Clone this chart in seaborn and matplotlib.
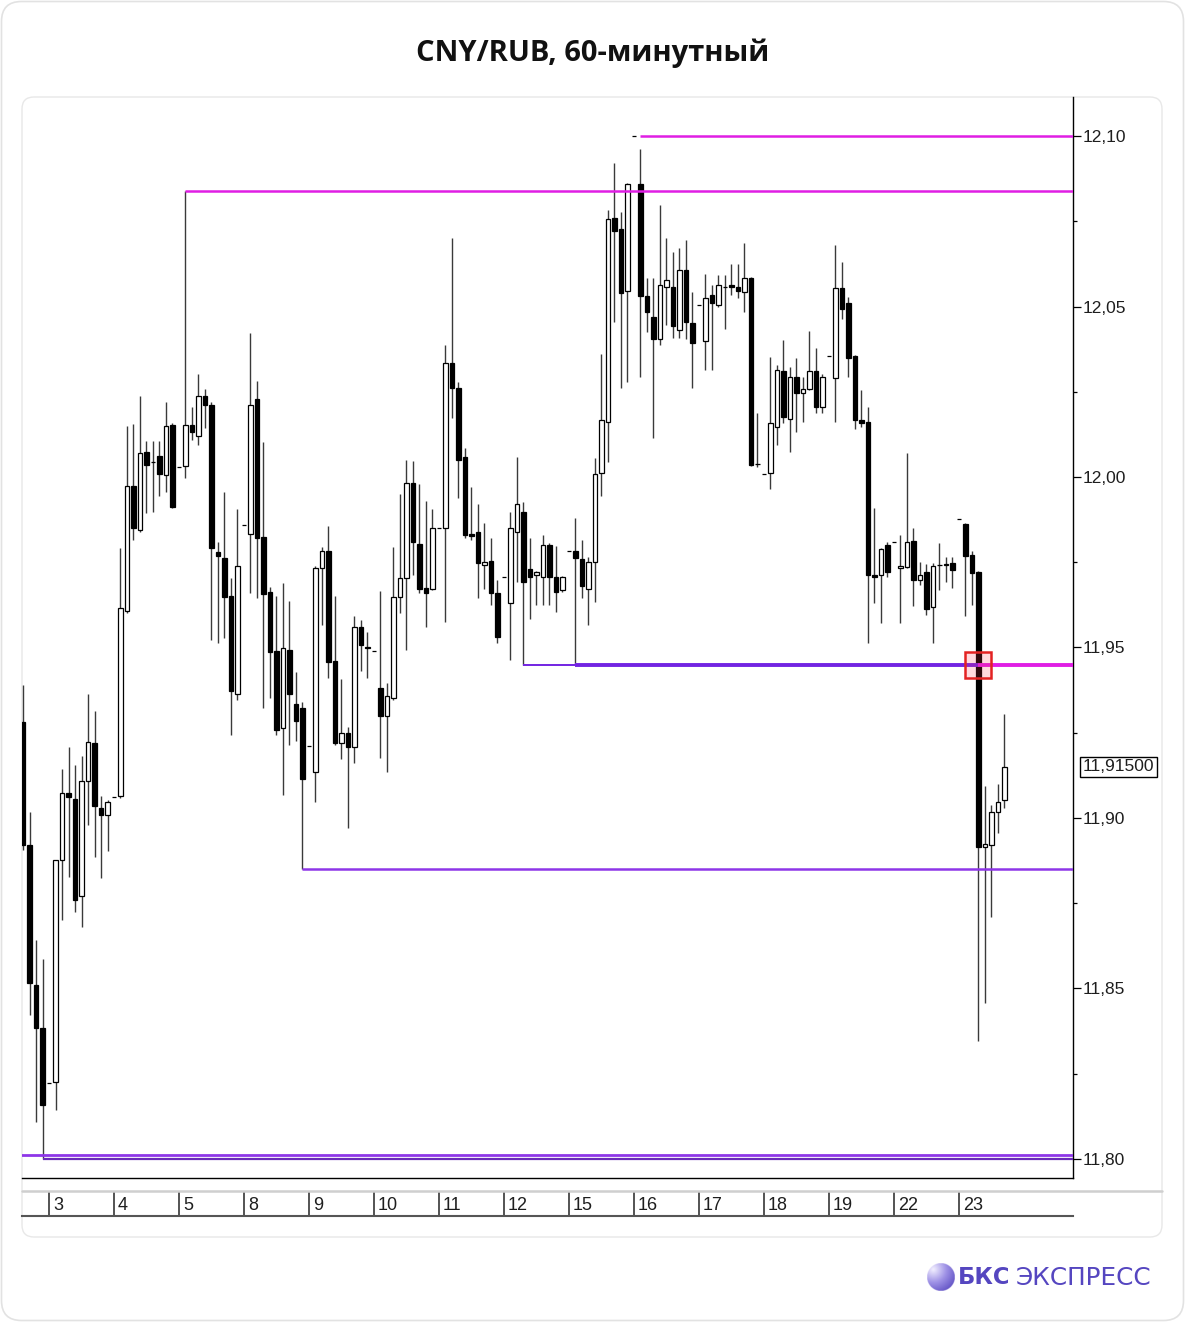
import numpy as np
import pandas as pd
import matplotlib
matplotlib.use("Agg")
import matplotlib.pyplot as plt
import seaborn as sns
from matplotlib.patches import FancyBboxPatch, Rectangle
from matplotlib.transforms import IdentityTransform, blended_transform_factory
from matplotlib.lines import Line2D

# ---------------- data (hourly candles, CNY/RUB) ----------------
opens = [11.9281, 11.8921, 11.8510, 11.8384, 11.8223, 11.8226, 11.8877, 11.9073, 11.9056, 11.8771,
         11.9108, 11.9220, 11.9029, 11.9009, 11.9062, 11.9064, 11.9607, 11.9974, 11.9845, 12.0073,
         12.0044, 12.0062, 12.0006, 12.0152, 12.0029, 12.0032, 12.0152, 12.0120, 12.0237, 12.0211,
         11.9780, 11.9762, 11.9651, 11.9364, 11.9859, 11.9833, 12.0229, 11.9824, 11.9663, 11.9490,
         11.9264, 11.9493, 11.9334, 11.9323, 11.9211, 11.9135, 11.9733, 11.9783, 11.9460, 11.9220,
         11.9249, 11.9208, 11.9560, 11.9501, 11.9490, 11.9381, 11.9299, 11.9352, 11.9648, 11.9704,
         11.9982, 11.9803, 11.9674, 11.9671, 11.9850, 11.9850, 12.0334, 12.0261, 12.0059, 11.9833,
         11.9839, 11.9742, 11.9754, 11.9660, 11.9707, 11.9630, 11.9839, 11.9897, 11.9730, 11.9713,
         11.9707, 11.9801, 11.9707, 11.9669, 11.9783, 11.9783, 11.9759, 11.9671, 11.9751, 12.0012,
         12.0161, 12.0760, 12.0727, 12.0545, 12.1000, 12.0859, 12.0531, 12.0469, 12.0405, 12.0557,
         12.0557, 12.0431, 12.0607, 12.0452, 12.0504, 12.0399, 12.0534, 12.0504, 12.0557, 12.0563,
         12.0557, 12.0543, 12.0584, 12.0038, 12.0009, 12.0012, 12.0147, 12.0311, 12.0170, 12.0293,
         12.0246, 12.0258, 12.0311, 12.0205, 12.0355, 12.0290, 12.0554, 12.0510, 12.0355, 12.0167,
         12.0161, 11.9713, 11.9713, 11.9801, 11.9809, 11.9733, 11.9736, 11.9812, 11.9698, 11.9721,
         11.9619, 11.9742, 11.9742, 11.9748, 11.9877, 11.9862, 11.9771, 11.9721, 11.8915, 11.8921,
         11.9018, 11.9053]
highs = [11.9390, 11.9018, 11.8642, 11.8586, 11.8223, 11.8877, 11.9144, 11.9208, 11.9155, 11.9182,
         11.9364, 11.9314, 11.9064, 11.9053, 11.9062, 11.9792, 12.0150, 12.0155, 12.0237, 12.0106,
         12.0106, 12.0106, 12.0220, 12.0158, 12.0029, 12.0839, 12.0205, 12.0302, 12.0258, 12.0220,
         11.9809, 11.9956, 11.9704, 11.9906, 11.9859, 12.0422, 12.0281, 12.0103, 11.9677, 11.9651,
         11.9689, 11.9636, 11.9428, 11.9340, 11.9211, 11.9739, 11.9795, 11.9856, 11.9651, 11.9408,
         11.9267, 11.9592, 11.9581, 11.9545, 11.9490, 11.9666, 11.9396, 11.9795, 11.9950, 12.0050,
         12.0047, 11.9979, 11.9930, 11.9906, 11.9850, 12.0387, 12.0701, 12.0279, 12.0085, 11.9971,
         11.9921, 11.9865, 11.9821, 11.9698, 11.9707, 11.9897, 12.0059, 11.9927, 11.9821, 11.9724,
         11.9830, 11.9806, 11.9798, 11.9710, 11.9783, 11.9880, 11.9815, 11.9765, 12.0056, 12.0361,
         12.0783, 12.0921, 12.0777, 12.0862, 12.1000, 12.0962, 12.0584, 12.0584, 12.0798, 12.0701,
         12.0660, 12.0672, 12.0695, 12.0543, 12.0504, 12.0595, 12.0563, 12.0592, 12.0592, 12.0625,
         12.0625, 12.0686, 12.0587, 12.0188, 12.0009, 12.0352, 12.0328, 12.0402, 12.0323, 12.0349,
         12.0293, 12.0428, 12.0378, 12.0302, 12.0355, 12.0680, 12.0630, 12.0528, 12.0358, 12.0255,
         12.0205, 11.9909, 11.9792, 11.9809, 11.9809, 11.9830, 12.0070, 11.9850, 11.9751, 11.9745,
         11.9748, 11.9806, 11.9765, 11.9765, 11.9877, 11.9865, 11.9783, 11.9724, 11.9094, 11.9038,
         11.9100, 11.9305]
lows = [11.8906, 11.8422, 11.8108, 11.8000, 11.8223, 11.8144, 11.8701, 11.8827, 11.8724, 11.8680,
        11.8979, 11.8886, 11.8824, 11.8903, 11.9062, 11.9059, 11.9601, 11.9815, 11.9839, 11.9894,
        11.9897, 11.9944, 11.9956, 11.9909, 12.0029, 11.9997, 12.0108, 12.0094, 12.0144, 11.9522,
        11.9513, 11.9528, 11.9243, 11.9346, 11.9859, 11.9660, 11.9645, 11.9323, 11.9352, 11.9243,
        11.9067, 11.9214, 11.9226, 11.8850, 11.9211, 11.9047, 11.9566, 11.9410, 11.9214, 11.9173,
        11.8971, 11.9161, 11.9431, 11.9410, 11.9490, 11.9176, 11.9135, 11.9346, 11.9601, 11.9493,
        11.9713, 11.9660, 11.9560, 11.9669, 11.9850, 11.9575, 12.0173, 11.9938, 11.9821, 11.9815,
        11.9645, 11.9671, 11.9625, 11.9513, 11.9707, 11.9463, 11.9692, 11.9449, 11.9584, 11.9625,
        11.9625, 11.9625, 11.9604, 11.9663, 11.9783, 11.9449, 11.9645, 11.9566, 11.9633, 11.9944,
        12.0044, 12.0455, 12.0261, 12.0279, 12.1000, 12.0293, 12.0425, 12.0114, 12.0387, 12.0446,
        12.0408, 12.0408, 12.0405, 12.0261, 12.0504, 12.0314, 12.0314, 12.0499, 12.0434, 12.0534,
        12.0525, 12.0484, 12.0032, 12.0029, 12.0009, 11.9965, 12.0094, 12.0158, 12.0073, 12.0132,
        12.0161, 12.0255, 12.0188, 12.0188, 12.0355, 12.0161, 12.0463, 12.0293, 12.0141, 12.0147,
        11.9513, 11.9630, 11.9572, 11.9707, 11.9809, 11.9572, 11.9733, 11.9622, 11.9683, 11.9595,
        11.9513, 11.9669, 11.9692, 11.9674, 11.9877, 11.9592, 11.9625, 11.8346, 11.8457, 11.8710,
        11.8956, 11.9029]
closes = [11.8921, 11.8516, 11.8384, 11.8158, 11.8223, 11.8877, 11.9073, 11.9062, 11.8759, 11.9108,
          11.9223, 11.9035, 11.9009, 11.9047, 11.9062, 11.9616, 11.9974, 11.9850, 12.0070, 12.0035,
          12.0044, 12.0009, 12.0150, 11.9912, 12.0029, 12.0152, 12.0132, 12.0237, 12.0211, 11.9792,
          11.9768, 11.9648, 11.9372, 11.9739, 11.9859, 12.0211, 11.9821, 11.9657, 11.9487, 11.9258,
          11.9498, 11.9364, 11.9284, 11.9114, 11.9211, 11.9733, 11.9783, 11.9457, 11.9220, 11.9249,
          11.9208, 11.9560, 11.9507, 11.9498, 11.9490, 11.9299, 11.9358, 11.9648, 11.9704, 11.9982,
          11.9809, 11.9671, 11.9660, 11.9850, 11.9850, 12.0334, 12.0261, 12.0050, 11.9830, 11.9827,
          11.9748, 11.9751, 11.9660, 11.9531, 11.9707, 11.9850, 11.9921, 11.9692, 11.9707, 11.9721,
          11.9801, 11.9707, 11.9663, 11.9707, 11.9783, 11.9762, 11.9680, 11.9751, 12.0009, 12.0167,
          12.0757, 12.0721, 12.0540, 12.0859, 12.1000, 12.0531, 12.0484, 12.0405, 12.0563, 12.0578,
          12.0443, 12.0607, 12.0455, 12.0393, 12.0504, 12.0525, 12.0510, 12.0563, 12.0557, 12.0557,
          12.0545, 12.0584, 12.0035, 12.0038, 12.0009, 12.0158, 12.0314, 12.0176, 12.0293, 12.0246,
          12.0258, 12.0311, 12.0205, 12.0293, 12.0355, 12.0554, 12.0493, 12.0349, 12.0167, 12.0158,
          11.9713, 11.9707, 11.9789, 11.9721, 11.9809, 11.9739, 11.9809, 11.9698, 11.9713, 11.9613,
          11.9739, 11.9742, 11.9745, 11.9727, 11.9877, 11.9768, 11.9718, 11.8915, 11.8924, 11.9018,
          11.9047, 11.9150]

day_labels = ["3", "4", "5", "8", "9", "10", "11", "12", "15", "16", "17", "18", "19", "22", "23"]
first_day_bar = 4        # index of first bar of day "3"
bars_per_day = 10
last_price = 11.915

# horizontal levels: (price, starting bar index)
resist_top = (12.1000, 95)
resist_2 = (12.0839, 25)
support_1 = (11.9449, 77)
support_1b = (11.9449, 85)
support_1_break = (11.9449, 147)
support_2 = (11.8850, 43)
support_3 = (11.8000, 3)
support_3b = (11.8012, 0)

# ---------------- style ----------------
sns.set_theme(style="white")
plt.rcParams['font.family'] = ['Liberation Sans', 'DejaVu Sans']

W, H = 1185, 1322
fig = plt.figure(figsize=(W / 100, H / 100), dpi=100)
fig.patch.set_facecolor('white')


def fx(px):
    return px / W


def fy(py):
    return 1 - py / H


# cards
fig.add_artist(FancyBboxPatch((1.5, 1.5), W - 3, H - 3, boxstyle="round,pad=0,rounding_size=20",
                              transform=IdentityTransform(), fc='white', ec='#e2e2e2', lw=1.2, zorder=-20))
fig.add_artist(FancyBboxPatch((22, H - 1237), 1140, 1140, boxstyle="round,pad=0,rounding_size=12",
                              transform=IdentityTransform(), fc='white', ec='#e8e8e8', lw=1.0, zorder=-10))

ax = fig.add_axes([fx(22), fy(1178), fx(1073) - fx(22), fy(97) - fy(1178)])
ax.set_facecolor('none')

df = pd.DataFrame({"o": opens, "h": highs, "l": lows, "c": closes})
df["i"] = np.arange(len(df))
df["up"] = df["c"] >= df["o"]
df["bottom"] = df[["o", "c"]].min(axis=1)
df["height"] = (df["c"] - df["o"]).abs()

xmax = 161.54
# wicks
ax.vlines(df["i"], df["l"], df["h"], color='#3a3a3a', lw=1.0, zorder=2)
# bodies
ax.bar(df["i"], df["height"], bottom=df["bottom"], width=0.74,
       color=np.where(df["up"], 'white', 'black'), edgecolor='black', linewidth=0.9, zorder=3)

# levels
magenta = '#e01ee4'
violet = '#7224e2'
violet_l = '#8e36e8'
ax.hlines(resist_top[0], resist_top[1], xmax, color=magenta, lw=1.8, zorder=4)
ax.hlines(resist_2[0], resist_2[1], xmax, color=magenta, lw=1.8, zorder=4)
ax.hlines(support_1[0], support_1[1], support_1b[1], color=violet, lw=1.4, zorder=4)
ax.hlines(support_1b[0], support_1b[1], support_1_break[1], color=violet, lw=2.8, zorder=4)
ax.hlines(support_1_break[0], support_1_break[1], xmax, color=magenta, lw=2.8, zorder=4)
ax.hlines(support_2[0], support_2[1], xmax, color=violet_l, lw=1.8, zorder=4)
ax.hlines(support_3b[0], -1, xmax, color=violet_l, lw=2.0, zorder=4)
ax.hlines(support_3[0], support_3[1], xmax, color='#6a2bb8', lw=1.6, zorder=4)

# breakout marker
bx = support_1_break[1]
ax.add_patch(Rectangle((bx - 2.0, support_1_break[0] - 0.0038), 4.0, 0.0076,
                       fc=(1, 0.2, 0.3, 0.18), ec='#e32222', lw=1.8, zorder=6))

ax.set_xlim(-0.154, xmax)
ax.set_ylim(11.79442, 12.11144)

major = np.round(np.arange(11.80, 12.1001, 0.05), 2)
minor = np.round(np.arange(11.825, 12.1, 0.05), 3)
ax.yaxis.tick_right()
ax.set_yticks(major)
ax.set_yticklabels([f"{v:.2f}".replace('.', ',') for v in major])
ax.set_yticks(minor, minor=True)
ax.tick_params(axis='y', which='major', direction='out', length=5.5, width=0.9, color='black',
               labelsize=12.5, pad=1.5, right=True, left=False, labelcolor='#1e1e1e')
ax.tick_params(axis='y', which='minor', direction='out', length=3, width=0.9, color='black',
               right=True, left=False)
ax.set_xticks([])
for s in ['left', 'top']:
    ax.spines[s].set_visible(False)
for s in ['right', 'bottom']:
    ax.spines[s].set_visible(True)
    ax.spines[s].set_color('black')
    ax.spines[s].set_linewidth(1.0)

# last price tag
trans = blended_transform_factory(ax.transAxes, ax.transData)
ax.text(1.0095, last_price, f"{last_price:.5f}".replace('.', ','), transform=trans, ha='left', va='center',
        fontsize=12.5, color='#1e1e1e', clip_on=False,
        bbox=dict(boxstyle='square,pad=0.15', fc='white', ec='black', lw=1.0))

# date strip
fig.add_artist(Line2D([fx(22), fx(1162)], [fy(1191), fy(1191)], color='#cfcfcf', lw=1.8))
ax2 = fig.add_axes([fx(22), fy(1216), fx(1073) - fx(22), fy(1192) - fy(1216)])
ax2.set_facecolor('none')
ax2.set_xlim(-0.154, xmax)
ax2.set_ylim(0, 1)
day_starts = first_day_bar + bars_per_day * np.arange(len(day_labels))
ax2.vlines(day_starts, 0, 1, color='#454545', lw=1.3)
for ds, lab in zip(day_starts, day_labels):
    ax2.text(ds + 0.6, 0.42, lab, ha='left', va='center', fontsize=13, color='#1e1e1e')
ax2.set_xticks([])
ax2.set_yticks([])
for s in ['left', 'top', 'right']:
    ax2.spines[s].set_visible(False)
ax2.spines['bottom'].set_color('#555555')
ax2.spines['bottom'].set_linewidth(1.5)

# title
fig.text(0.5, fy(53), "CNY/RUB, 60-минутный", ha='center', va='center', fontsize=21,
         fontweight='bold', color='#111111', family=['Open Sans', 'DejaVu Sans'])

# logo
axl = fig.add_axes([fx(927), fy(1291), fx(28), 28 / H])
n = 120
xx, yy = np.meshgrid(np.linspace(-1, 1, n), np.linspace(1, -1, n))
r = np.sqrt(xx ** 2 + yy ** 2)
t = np.clip(np.sqrt((xx + 0.55) ** 2 + (yy - 0.55) ** 2) / 1.9, 0, 1)
c0 = np.array([0.95, 0.94, 1.0])
c1 = np.array([0.62, 0.57, 0.90])
c2 = np.array([0.36, 0.30, 0.76])
col = np.where(t[..., None] < 0.5, c0 + (c1 - c0) * (t[..., None] / 0.5),
               c1 + (c2 - c1) * ((t[..., None] - 0.5) / 0.5))
img = np.dstack([col, (r <= 1).astype(float)])
axl.imshow(img, extent=(-1, 1, -1, 1), interpolation='bilinear')
axl.axis('off')
fig.text(fx(958), fy(1278), "БКС", ha='left', va='center', fontsize=16.3, fontweight='bold',
         color='#5546c0', family=['DejaVu Sans'])
fig.text(fx(1016), fy(1278), "ЭКСПРЕСС", ha='left', va='center', fontsize=17.8,
         color='#5546c0', family=['DejaVu Sans'])

fig.savefig("out.png", dpi=100, facecolor='white')
